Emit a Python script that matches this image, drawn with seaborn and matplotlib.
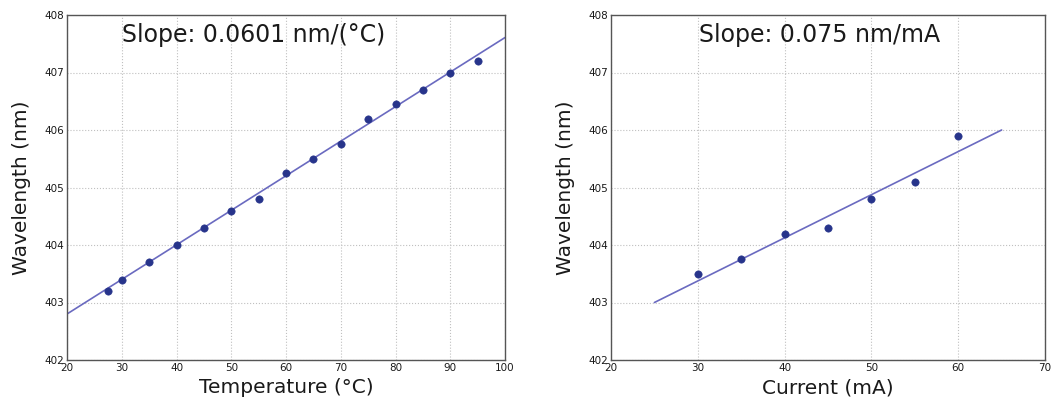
import numpy as np
import pandas as pd
import matplotlib
matplotlib.use("Agg")
import matplotlib.pyplot as plt
import seaborn as sns

# data
temp_c = [27.5, 30, 35, 40, 45, 50, 55, 60, 65, 70, 75, 80, 85, 90, 95]
temp_wl = [403.2, 403.4, 403.7, 404.0, 404.3, 404.6, 404.8, 405.25, 405.5, 405.75,
           406.2, 406.45, 406.7, 407.0, 407.2]
temp_slope = 0.0601
temp_fit_at20 = 402.8
temp_fit_range = [20, 100]

curr_ma = [30, 35, 40, 45, 50, 55, 60]
curr_wl = [403.5, 403.75, 404.2, 404.3, 404.8, 405.1, 405.9]
curr_slope = 0.075
curr_fit_at25 = 403.0
curr_fit_range = [25, 65]

sns.set_style("white")
plt.rcParams['font.family'] = ['DejaVu Sans']
plt.rcParams['text.color'] = '#1a1a1a'
plt.rcParams['axes.labelcolor'] = '#1a1a1a'

fig = plt.figure(figsize=(10.63, 4.09), dpi=100)
ax1 = fig.add_axes([67/1063, 1 - 360/409, 438/1063, 345/409])
ax2 = fig.add_axes([611/1063, 1 - 360/409, 434/1063, 345/409])

pt_col = "#27348b"
ln_col = "#6a6ac0"


def panel(ax, xs, ys, slope, y0, x0, fit_range, xlim, xlabel, title, tx):
    fx = np.array(fit_range, dtype=float)
    fy = y0 + slope * (fx - x0)
    sns.lineplot(x=fx, y=fy, ax=ax, color=ln_col, lw=1.2)
    df = pd.DataFrame({"x": xs, "y": ys})
    sns.scatterplot(data=df, x="x", y="y", ax=ax, color=pt_col, s=28, edgecolor=pt_col, zorder=3)
    ax.set_xlim(*xlim)
    ax.set_ylim(402, 408)
    ax.set_xticks(np.arange(xlim[0], xlim[1] + 1, 10))
    ax.set_yticks(np.arange(402, 409, 1))
    ax.grid(True, ls=":", color="#c0c0c0", lw=0.8)
    ax.tick_params(labelsize=7.5, length=0, pad=2, labelcolor="#1a1a1a")
    for s in ax.spines.values():
        s.set_color("#555555")
        s.set_linewidth(1.0)
    ax.set_xlabel(xlabel, fontsize=14.5, labelpad=4)
    ax.set_ylabel("Wavelength (nm)", fontsize=14.5, labelpad=10)
    ax.text(tx, 0.942, title, transform=ax.transAxes, fontsize=17, ha="center", va="center")


panel(ax1, temp_c, temp_wl, temp_slope, temp_fit_at20, 20, temp_fit_range, (20, 100),
      "Temperature (°C)", "Slope: 0.0601 nm/(°C)", 0.425)
panel(ax2, curr_ma, curr_wl, curr_slope, curr_fit_at25, 25, curr_fit_range, (20, 70),
      "Current (mA)", "Slope: 0.075 nm/mA", 0.48)

fig.savefig("out.png", dpi=100)
